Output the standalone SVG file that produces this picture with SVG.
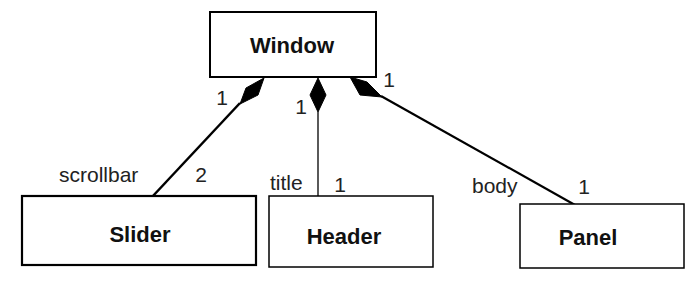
<svg xmlns="http://www.w3.org/2000/svg" width="693" height="282" viewBox="0 0 693 282">
<style>
.box{fill:#fff;stroke:#000}
.name{font-family:"Liberation Sans",Arial,sans-serif;font-size:22px;font-weight:bold;text-anchor:middle;fill:#111}
.lbl{font-family:"Liberation Sans",Arial,sans-serif;font-size:21px;fill:#222}
.mid{text-anchor:middle}
.conn{stroke:#000;fill:none}
.dia{fill:#000;stroke:#000;stroke-width:1}
</style>
<rect width="693" height="282" fill="#fff"/>
<g id="connectors">
<line class="conn" x1="240" y1="103" x2="152" y2="197" stroke-width="2.5"/>
<polygon class="dia" points="264,78 258,95 240,104 246,88"/>
<line class="conn" x1="318" y1="112" x2="318" y2="196" stroke-width="1.3"/>
<polygon class="dia" points="318,78 326,95 318,112 310,95"/>
<line class="conn" x1="381" y1="96" x2="575" y2="205" stroke-width="2.2"/>
<polygon class="dia" points="350,77 367,82 382,97 360,95"/>
<text class="lbl mid" x="222" y="105">1</text>
<text class="lbl mid" x="301" y="114">1</text>
<text class="lbl mid" x="389" y="87">1</text>
<text class="lbl" x="59" y="182">scrollbar</text>
<text class="lbl mid" x="201" y="182">2</text>
<text class="lbl" x="270" y="190">title</text>
<text class="lbl mid" x="340" y="192">1</text>
<text class="lbl" x="472" y="193">body</text>
<text class="lbl mid" x="584" y="194">1</text>
</g>
<g id="window">
<rect class="box" x="210" y="12" width="166" height="65" stroke-width="2"/>
<text class="name" x="292" y="53">Window</text>
</g>
<g id="slider">
<rect class="box" x="22" y="196" width="234" height="69" stroke-width="2.2"/>
<text class="name" x="140" y="242">Slider</text>
</g>
<g id="header">
<rect class="box" x="269" y="196" width="164" height="71" stroke-width="1.5"/>
<text class="name" x="344" y="244">Header</text>
</g>
<g id="panel">
<rect class="box" x="520" y="204" width="164" height="64" stroke-width="1.5"/>
<text class="name" x="588" y="245">Panel</text>
</g>
</svg>
